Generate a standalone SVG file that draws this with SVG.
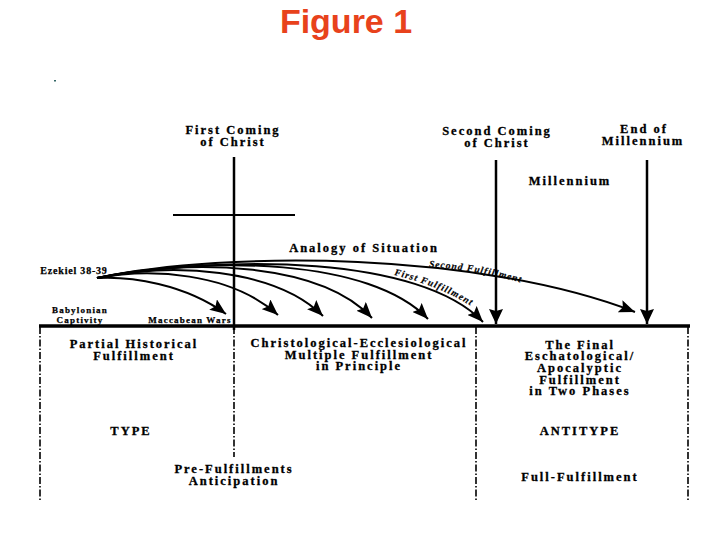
<svg xmlns="http://www.w3.org/2000/svg" width="720" height="540" viewBox="0 0 720 540">
<style>
.t{font-family:"Liberation Serif","Times New Roman",serif;font-weight:bold;font-size:12.5px;letter-spacing:2px;text-anchor:middle;fill:#000;stroke:#000;stroke-width:0.3}
.s{font-family:"Liberation Serif","Times New Roman",serif;font-weight:bold;font-size:9px;letter-spacing:1.2px;text-anchor:middle;fill:#000;stroke:#000;stroke-width:0.25}
.i{font-family:"Liberation Serif","Times New Roman",serif;font-weight:bold;font-style:italic;font-size:9.5px;letter-spacing:1px;fill:#000;stroke:#000;stroke-width:0.2}
.title{font-family:"Liberation Sans",Arial,sans-serif;font-weight:bold;font-size:34px;text-anchor:middle;fill:#e8421c}
.curve{fill:none;stroke:#000;stroke-width:2;marker-end:url(#ah)}
.dash{fill:none;stroke:#000;stroke-width:1.6;stroke-dasharray:7 2 1.5 2}
.solid{fill:none;stroke:#000}
</style>
<defs>
<marker id="ah" markerUnits="userSpaceOnUse" markerWidth="17" markerHeight="13" refX="16" refY="6.5" orient="auto">
<path d="M0,0 L16,6.5 L0,13 L3,6.5 z" fill="#000"/>
</marker>
<marker id="av" markerUnits="userSpaceOnUse" markerWidth="15" markerHeight="14" refX="15" refY="7" orient="auto">
<path d="M0,0 L15,7 L0,14 L2,7 z" fill="#000"/>
</marker>
<path id="p2" d="M429,267 C460,269 495,274 532,286"/>
<path id="p1" d="M394,275 C420,281 450,292 474,308"/>
</defs>
<rect width="720" height="540" fill="#fff"/>
<text class="title" x="346" y="33">Figure 1</text>
<rect x="54" y="80" width="2" height="1.5" fill="#336666"/>

<g id="timeline">
<line class="solid" x1="39" y1="326" x2="690" y2="326" stroke-width="3.5"/>
<line class="dash" x1="40" y1="327" x2="40" y2="500"/>
<line class="dash" x1="234" y1="327" x2="234" y2="457"/>
<line class="dash" x1="476" y1="327" x2="476" y2="500"/>
<line class="dash" x1="688" y1="327" x2="688" y2="500"/>
</g>

<g id="first-coming">
<line class="solid" x1="234" y1="157" x2="234" y2="330" stroke-width="2.5"/>
<line class="solid" x1="173" y1="215" x2="295" y2="215" stroke-width="2"/>
<text class="t" x="233" y="134">First Coming</text>
<text class="t" x="233" y="146">of Christ</text>
</g>

<g id="second-coming">
<line class="solid" x1="496" y1="160" x2="496" y2="324" stroke-width="2.5" marker-end="url(#av)"/>
<text class="t" x="497" y="135">Second Coming</text>
<text class="t" x="497" y="147">of Christ</text>
</g>

<g id="end-millennium">
<line class="solid" x1="647" y1="160" x2="647" y2="324" stroke-width="2.5" marker-end="url(#av)"/>
<text class="t" x="644" y="133">End of</text>
<text class="t" x="643" y="145">Millennium</text>
</g>

<g id="millennium">
<text class="t" x="570" y="185">Millennium</text>
</g>

<g id="ezekiel">
<text class="t" x="364" y="252">Analogy of Situation</text>
<text class="s" x="74" y="274" style="font-size:10px;letter-spacing:0.8px">Ezekiel 38-39</text>
<text class="s" x="80" y="313">Babylonian</text>
<text class="s" x="80" y="323">Captivity</text>
<text class="s" x="190" y="323">Maccabean Wars</text>
</g>

<g id="connectors">
<path class="curve" d="M97,278 C130,276 185,284 226,314"/>
<path class="curve" d="M97,278 C150,268 230,272 278,315"/>
<path class="curve" d="M97,278 C170,262 275,268 323,316"/>
<path class="curve" d="M97,278 C190,258 320,262 372,318"/>
<path class="curve" d="M97,278 C210,256 370,258 428,319"/>
<path class="curve" d="M97,278 C230,254 420,256 483,322"/>
<path class="curve" d="M97,278 C230,250 480,252 635,312"/>
<text class="i"><textPath href="#p2">Second Fulfillment</textPath></text>
<text class="i"><textPath href="#p1">First Fulfillment</textPath></text>
</g>

<g id="type">
<text class="t" x="134" y="348">Partial Historical</text>
<text class="t" x="134" y="360">Fulfillment</text>
<text class="t" x="131" y="435">TYPE</text>
<text class="t" x="234" y="473">Pre-Fulfillments</text>
<text class="t" x="234" y="485">Anticipation</text>
</g>

<g id="christological">
<text class="t" x="359" y="347">Christological-Ecclesiological</text>
<text class="t" x="359" y="359">Multiple Fulfillment</text>
<text class="t" x="359" y="370">in Principle</text>
</g>

<g id="antitype">
<text class="t" x="580" y="349">The Final</text>
<text class="t" x="580" y="360">Eschatological/</text>
<text class="t" x="580" y="372">Apocalyptic</text>
<text class="t" x="580" y="384">Fulfillment</text>
<text class="t" x="580" y="395">in Two Phases</text>
<text class="t" x="580" y="435">ANTITYPE</text>
<text class="t" x="580" y="481">Full-Fulfillment</text>
</g>
</svg>
